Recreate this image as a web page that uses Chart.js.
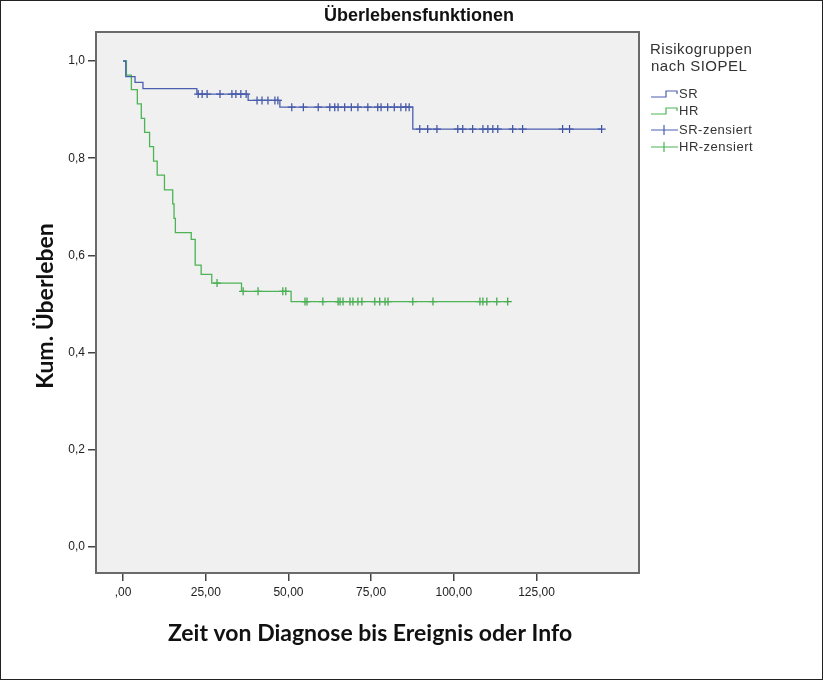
<!DOCTYPE html>
<html>
<head>
<meta charset="utf-8">
<script src="https://cdn.jsdelivr.net/npm/chart.js@4.4.1/dist/chart.umd.min.js"></script>
<style>
  html, body { margin: 0; padding: 0; background: #fff; }
  #wrap { width: 824px; height: 681px; }
</style>
</head>
<body>
<div id="wrap"><canvas id="chart" width="824" height="681"></canvas></div>
<script>
// axis ticks
const xTicks = [0, 25, 50, 75, 100, 125];
const yTicks = [0, 0.2, 0.4, 0.6, 0.8, 1.0];

// SR group: step times and survival after each step (last = end of follow-up)
const srTimes = [0, 0.8, 3.6, 6.0, 22.3, 37.8, 47.4, 87.6, 144.7];
const srSurv  = [1.0, 0.968, 0.956, 0.943, 0.932, 0.919, 0.905, 0.860, 0.860];
// SR censored times
const srCensored = [22.7, 23.9, 25.4, 29.3, 32.9, 34.1, 35.6, 37.2, 40.5, 42.0, 43.8, 45.9, 46.8,
  51.0, 54.5, 59.0, 62.5, 64.0, 65.0, 67.0, 69.0, 71.0, 74.0, 77.0, 78.0, 80.0, 82.0, 84.0, 85.5, 86.5,
  89.7, 92.1, 94.9, 101.2, 102.7, 105.7, 108.8, 110.3, 111.8, 113.3, 117.8, 120.8, 132.9, 135.0, 144.7];

// HR group
const hrTimes = [0, 1.0, 2.5, 4.3, 5.5, 6.5, 8.0, 9.2, 10.3, 12.5, 15.0, 15.4, 15.8, 20.6, 21.8, 23.6, 26.8, 35.8, 50.8, 116.3];
const hrSurv  = [1.0, 0.971, 0.941, 0.912, 0.882, 0.853, 0.824, 0.794, 0.765, 0.735, 0.706, 0.676, 0.647, 0.633, 0.580, 0.561, 0.543, 0.526, 0.505, 0.505];
const hrCensored = [28.4, 36.3, 40.8, 48.3, 49.2, 55.0, 55.6, 60.4, 65.0, 65.6, 66.5, 68.6, 69.5, 71.0, 72.2,
  76.1, 77.6, 79.2, 80.1, 87.6, 93.7, 107.9, 108.8, 110.0, 113.0, 116.3];

const srColor = '#4a5fae';
const hrColor = '#4cb454';

// survival level of a step curve at time t
function levelAt(times, surv, t) {
    let s = surv[0];
    for (let i = 0; i < times.length; i++) {
        if (times[i] <= t) s = surv[i];
    }
    return s;
}

function stepPoints(times, surv) {
    return times.map((t, i) => ({ x: t, y: surv[i] }));
}

function censorPoints(list, times, surv) {
    return list.map(t => ({ x: t, y: levelAt(times, surv, t) }));
}

function fmtComma(v, digits) {
    let s = v.toFixed(digits).replace('.', ',');
    if (s.startsWith('0,') && digits === 2) s = s.substring(1);
    return s;
}

// titles, frame and legend drawn around the plot
const decor = {
    id: 'decor',
    beforeDraw(chart) {
        const ctx = chart.ctx, a = chart.chartArea;
        ctx.save();
        ctx.fillStyle = '#ffffff';
        ctx.fillRect(0, 0, chart.width, chart.height);
        ctx.fillStyle = '#f0f0f0';
        ctx.fillRect(a.left, a.top, a.right - a.left, a.bottom - a.top);
        ctx.restore();
    },
    afterDraw(chart) {
        const ctx = chart.ctx, a = chart.chartArea;
        ctx.save();
        // plot frame
        ctx.strokeStyle = '#6a6a6a';
        ctx.lineWidth = 2;
        ctx.strokeRect(a.left, a.top, a.right - a.left, a.bottom - a.top);
        // outer frame
        ctx.strokeStyle = '#222';
        ctx.lineWidth = 1;
        ctx.strokeRect(0.5, 0.5, 822, 679);

        // main title
        ctx.fillStyle = '#111';
        ctx.textAlign = 'center';
        ctx.textBaseline = 'middle';
        ctx.font = 'bold 18px "Liberation Sans", Arial, sans-serif';
        ctx.fillText('Überlebensfunktionen', 419, 16);

        // axis titles
        ctx.font = 'bold 23px Lato, "Open Sans", sans-serif';
        ctx.fillText('Zeit von Diagnose bis Ereignis oder Info', 370, 634);
        ctx.save();
        ctx.translate(46, 306);
        ctx.rotate(-Math.PI / 2);
        ctx.fillText('Kum. Überleben', 0, 0);
        ctx.restore();

        // legend
        ctx.textAlign = 'left';
        ctx.fillStyle = '#333';
        ctx.letterSpacing = '0.5px';
        ctx.font = '15px "Liberation Sans", Arial, sans-serif';
        ctx.fillText('Risikogruppen', 650, 50);
        ctx.fillText('nach SIOPEL', 651, 67);

        ctx.font = '13px "Liberation Sans", Arial, sans-serif';
        const items = [
            { label: 'SR', color: srColor, type: 'step', y: 94 },
            { label: 'HR', color: hrColor, type: 'step', y: 111 },
            { label: 'SR-zensiert', color: srColor, type: 'cross', y: 130 },
            { label: 'HR-zensiert', color: hrColor, type: 'cross', y: 147 }
        ];
        items.forEach(function(it) {
            ctx.strokeStyle = it.color;
            ctx.lineWidth = 1.2;
            ctx.beginPath();
            if (it.type === 'step') {
                ctx.moveTo(651, it.y + 3);
                ctx.lineTo(666, it.y + 3);
                ctx.lineTo(666, it.y - 3);
                ctx.lineTo(677, it.y - 3);
                ctx.lineTo(677, it.y);
            } else {
                ctx.moveTo(651, it.y);
                ctx.lineTo(678, it.y);
                ctx.moveTo(664, it.y - 5);
                ctx.lineTo(664, it.y + 5);
            }
            ctx.stroke();
            ctx.fillStyle = '#333';
            ctx.fillText(it.label, 679, it.y);
        });
        ctx.restore();
    }
};

const ctx = document.getElementById('chart').getContext('2d');
const chart = new Chart(ctx, {
    type: 'scatter',
    data: {
        datasets: [
            {
                label: 'SR',
                data: stepPoints(srTimes, srSurv),
                showLine: true,
                stepped: 'before',
                borderColor: srColor,
                borderWidth: 1.3,
                pointRadius: 0,
                fill: false
            },
            {
                label: 'HR',
                data: stepPoints(hrTimes, hrSurv),
                showLine: true,
                stepped: 'before',
                borderColor: hrColor,
                borderWidth: 1.3,
                pointRadius: 0,
                fill: false
            },
            {
                label: 'SR-zensiert',
                data: censorPoints(srCensored, srTimes, srSurv),
                showLine: false,
                pointStyle: 'cross',
                pointRadius: 4,
                pointBorderWidth: 1.2,
                borderColor: '#3a4ea0',
                backgroundColor: '#3a4ea0'
            },
            {
                label: 'HR-zensiert',
                data: censorPoints(hrCensored, hrTimes, hrSurv),
                showLine: false,
                pointStyle: 'cross',
                pointRadius: 4,
                pointBorderWidth: 1.2,
                borderColor: '#3aa043',
                backgroundColor: '#3aa043'
            }
        ]
    },
    options: {
        responsive: false,
        animation: false,
        layout: { padding: { top: 32, right: 185, left: 0, bottom: 0 } },
        plugins: {
            legend: { display: false },
            tooltip: { enabled: false },
            title: { display: false }
        },
        scales: {
            x: {
                type: 'linear',
                min: -8.2,
                max: 156,
                afterBuildTicks: function(scale) {
                    scale.ticks = xTicks.map(v => ({ value: v }));
                },
                afterFit: function(scale) { scale.height = 108; },
                border: { display: false },
                grid: { display: true, drawOnChartArea: false, drawTicks: true, tickLength: 8, color: '#444', lineWidth: 1.5 },
                ticks: {
                    padding: 4,
                    color: '#222',
                    font: { family: '"Liberation Sans", Arial, sans-serif', size: 12 },
                    callback: function(v) { return fmtComma(v, 2); }
                }
            },
            y: {
                type: 'linear',
                min: -0.0535,
                max: 1.0597,
                afterBuildTicks: function(scale) {
                    scale.ticks = yTicks.map(v => ({ value: v }));
                },
                afterFit: function(scale) { scale.width = 96; },
                border: { display: false },
                grid: { display: true, drawOnChartArea: false, drawTicks: true, tickLength: 8, color: '#444', lineWidth: 1.5 },
                ticks: {
                    padding: 3,
                    color: '#222',
                    font: { family: '"Liberation Sans", Arial, sans-serif', size: 12 },
                    callback: function(v) { return fmtComma(v, 1); }
                }
            }
        }
    },
    plugins: [decor]
});
</script>
</body>
</html>
